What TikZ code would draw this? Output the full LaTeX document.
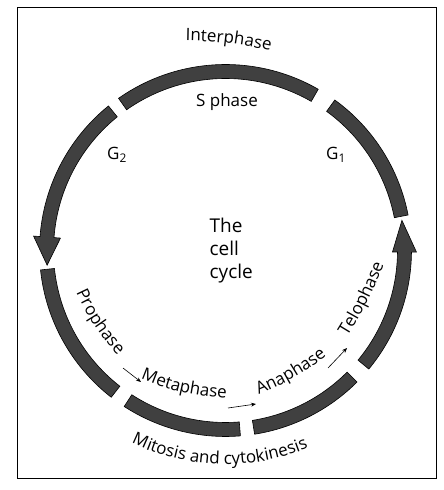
\documentclass[tikz,border=0pt]{standalone}
\usepackage{fontspec}
\setmainfont{Open Sans}
\usetikzlibrary{decorations.text,arrows.meta}
\newcommand{\cellseg}[2]{\draw[seg] (#1:172) arc[start angle=#1,end angle=#2,radius=172] -- (#2:186) arc[start angle=#2,end angle=#1,radius=186] -- cycle;}
\begin{document}
\begin{tikzpicture}[x=1pt,y=1pt,
  seg/.style={fill=black!75, draw=black, line width=0.6pt},
  lbl/.style={font=\fontsize{17}{20}\selectfont, inner sep=0pt, anchor=base},
  big/.style={font=\fontsize{19}{23}\selectfont, inner sep=0pt, anchor=base west},
  smallarrow/.style={-{Stealth[length=5pt,width=4pt]}, line width=0.6pt},
  frame/.style={draw=black, line width=0.8pt},
  curved/.style={decorate, decoration={text along path, text align=center, text={|\fontsize{17}{20}\selectfont|#1}}}]
\useasboundingbox (0,0) rectangle (444,490);
\draw[frame] (17,12) rectangle (436,483);
\coordinate (C) at (225.5,239.5);
\begin{scope}[shift={(C)}]
  % G1
  \cellseg{11}{54}
  % S phase
  \cellseg{60.1}{125.1}
  % G2 with arrowhead
  \draw[seg] (129:172) arc[start angle=129,end angle=175.7,radius=172] -- (175.7:165.5) -- (184.7:179) -- (175.7:192.5) -- (175.7:186) arc[start angle=175.7,end angle=129,radius=186] -- cycle;
  % Prophase
  \cellseg{186}{232.1}
  % Metaphase
  \cellseg{237}{274.6}
  % Anaphase
  \cellseg{279}{315}
  % Telophase with arrowhead
  \draw[seg] (320.4:172) arc[start angle=320.4,end angle=359.5,radius=172] -- (359.5:167) -- (9.7:179) -- (359.5:191) -- (359.5:186) arc[start angle=359.5,end angle=320.4,radius=186] -- cycle;
  % Mitosis and cytokinesis
  \path[curved={Mitosis and cytokinesis}] (228.35:214) arc[start angle=228.35,end angle=308.35,radius=214];
\end{scope}
\path[curved={Interphase}] (171.6,449.4) to[bend left=7] (283.9,436.1);
\path[curved={Prophase}] (71.4,208) to[bend right=10] (125.6,126);
\path[curved={Metaphase}] (130.3,115.7) to[bend right=11] (237.7,91.3);
\path[curved={Anaphase}] (248.6,91) to[bend right=8] (335.4,141);
\path[curved={Telophase}] (340.6,142.3) to[bend right=6] (388.4,237.7);
\node[lbl] (sphase) at (227,383) {S phase};
\node[lbl, anchor=base west] (g2) at (107,330) {G\textsubscript{2}};
\node[lbl, anchor=base west] (g1) at (326,330) {G\textsubscript{1}};
\node[big] (cc1) at (209.5,257) {The};
\node[big] (cc2) at (209.5,234) {cell};
\node[big] (cc3) at (209.5,211) {cycle};
\coordinate (a1s) at (123,122);
\coordinate (a1e) at (141,108);
\coordinate (a2s) at (228,82);
\coordinate (a2e) at (256,86);
\coordinate (a3s) at (328,122);
\coordinate (a3e) at (347,142);
\draw[smallarrow] (a1s) -- (a1e);
\draw[smallarrow] (a2s) -- (a2e);
\draw[smallarrow] (a3s) -- (a3e);
\end{tikzpicture}
\end{document}
